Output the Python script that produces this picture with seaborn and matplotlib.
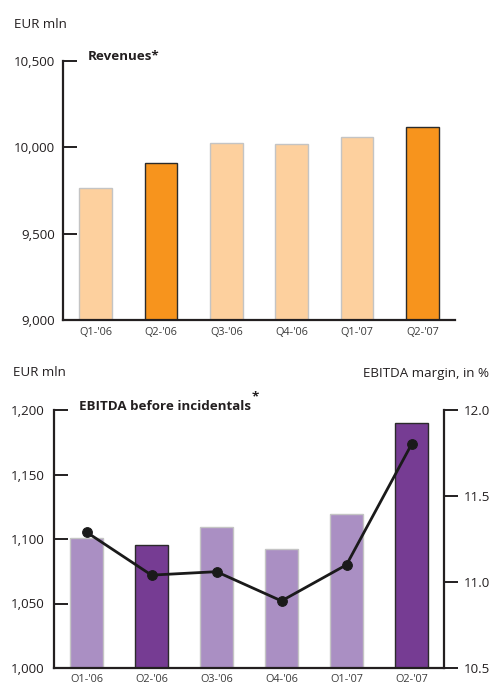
import numpy as np
import pandas as pd
import matplotlib
matplotlib.use("Agg")
import matplotlib.pyplot as plt
import seaborn as sns

# Revenues per quarter
rev_quarters = ["Q1-'06", "Q2-'06", "Q3-'06", "Q4-'06", "Q1-'07", "Q2-'07"]
rev_values = [9765, 9910, 10025, 10020, 10060, 10117]
rev_highlight = [False, True, False, False, False, True]
rev_ticks = [9000, 9500, 10000, 10500]

# EBITDA before incidentals and EBITDA margin
ebitda_quarters = ["O1-'06", "O2-'06", "O3-'06", "O4-'06", "O1-'07", "O2-'07"]
ebitda_values = [1101, 1095, 1109, 1092, 1119, 1190]
ebitda_highlight = [False, True, False, False, False, True]
margin_values = [11.29, 11.04, 11.06, 10.89, 11.10, 11.80]
ebitda_ticks = [1000, 1050, 1100, 1150, 1200]
margin_ticks = [10.5, 11.0, 11.5, 12.0]

sns.set_style("ticks")
plt.rcParams["font.family"] = ["Open Sans", "DejaVu Sans"]
plt.rcParams["font.size"] = 9.5

ORANGE_LIGHT, ORANGE_DARK = "#fdd09e", "#f7941d"
PURPLE_LIGHT, PURPLE_DARK = "#aa8fc3", "#763c93"
TEXT = "#231f20"
LABEL_SIZE = 9.6
XLABEL_SIZE = 7.8

W, H = 492, 686
fig = plt.figure(figsize=(W / 100, H / 100), dpi=100)


def axes_px(left, top, right, bottom):
    return fig.add_axes([left / W, 1 - bottom / H, (right - left) / W, (bottom - top) / H])


def style_bars(ax, highlight, light, dark):
    for patch, hi in zip(ax.patches, highlight):
        patch.set_facecolor(dark if hi else light)
        patch.set_edgecolor("#2b2b2b" if hi else "#c4c4c4")
        patch.set_linewidth(1.0)


# ---- Revenues chart ----
ax1 = axes_px(63, 61, 455, 320)
df_rev = pd.DataFrame({"quarter": rev_quarters, "value": rev_values})
sns.barplot(data=df_rev, x="quarter", y="value", hue="quarter", legend=False,
            palette=[ORANGE_DARK if h else ORANGE_LIGHT for h in rev_highlight],
            width=0.5, ax=ax1)
style_bars(ax1, rev_highlight, ORANGE_LIGHT, ORANGE_DARK)
ax1.set_xlim(-0.5, 5.5)
ax1.set_ylim(9000, 10500)
ax1.set_yticks(rev_ticks)
ax1.set_yticklabels([f"{v:,}" for v in rev_ticks])
ax1.set_xlabel("")
ax1.set_ylabel("")
sns.despine(ax=ax1)
for side in ("left", "bottom"):
    ax1.spines[side].set_linewidth(1.6)
    ax1.spines[side].set_color(TEXT)
ax1.tick_params(axis="y", direction="in", length=10, width=1.4, pad=6,
                labelsize=LABEL_SIZE, colors=TEXT)
ax1.tick_params(axis="x", length=0, pad=5, labelsize=XLABEL_SIZE, labelcolor="#3a3a3a")
fig.text(14 / W, 1 - 25 / H, "EUR mln", ha="left", va="center", fontsize=LABEL_SIZE,
         color=TEXT)
fig.text(88 / W, 1 - 57 / H, "Revenues*", ha="left", va="center", fontsize=LABEL_SIZE,
         fontweight="bold", color=TEXT)

# ---- EBITDA chart ----
ax2 = axes_px(54, 410, 444, 668)
df_eb = pd.DataFrame({"quarter": ebitda_quarters, "value": ebitda_values})
sns.barplot(data=df_eb, x="quarter", y="value", hue="quarter", legend=False,
            palette=[PURPLE_DARK if h else PURPLE_LIGHT for h in ebitda_highlight],
            width=0.5, ax=ax2)
style_bars(ax2, ebitda_highlight, PURPLE_LIGHT, PURPLE_DARK)
ax2.set_xlim(-0.5, 5.5)
ax2.set_ylim(1000, 1200)
ax2.set_yticks(ebitda_ticks)
ax2.set_yticklabels([f"{v:,}" for v in ebitda_ticks])
ax2.set_xlabel("")
ax2.set_ylabel("")
ax2.spines["top"].set_visible(False)
ax2.spines["right"].set_visible(False)
for side in ("left", "bottom"):
    ax2.spines[side].set_linewidth(1.6)
    ax2.spines[side].set_color(TEXT)
ax2.tick_params(axis="y", direction="in", length=10, width=1.4, pad=7,
                labelsize=LABEL_SIZE, colors=TEXT)
ax2.tick_params(axis="x", length=0, pad=4, labelsize=XLABEL_SIZE, labelcolor="#3a3a3a")

ax3 = ax2.twinx()
df_m = pd.DataFrame({"pos": np.arange(len(margin_values)), "margin": margin_values})
sns.lineplot(data=df_m, x="pos", y="margin", ax=ax3, color="#1a1a1a", linewidth=2.0,
             marker="o", markersize=7, markeredgecolor="#1a1a1a", zorder=5)
ax3.set_xlim(-0.5, 5.5)
ax3.set_ylim(10.5, 12.0)
ax3.set_yticks(margin_ticks)
ax3.set_yticklabels([f"{v:.1f}" for v in margin_ticks])
ax3.set_xlabel("")
ax3.set_ylabel("")
for side in ("top", "left", "bottom"):
    ax3.spines[side].set_visible(False)
ax3.spines["right"].set_linewidth(1.6)
ax3.spines["right"].set_color(TEXT)
ax3.tick_params(axis="y", direction="out", length=10, width=1.4, pad=4,
                labelsize=LABEL_SIZE, colors=TEXT)

fig.text(13 / W, 1 - 373 / H, "EUR mln", ha="left", va="center", fontsize=LABEL_SIZE,
         color=TEXT)
ebitda_title = fig.text(79 / W, 1 - 406 / H, "EBITDA before incidentals", ha="left",
                        va="center", fontsize=LABEL_SIZE, fontweight="bold", color=TEXT)
fig.canvas.draw()
title_right = ebitda_title.get_window_extent().x1
fig.text((title_right + 1) / W, 1 - 397 / H, "*", ha="left", va="center",
         fontsize=LABEL_SIZE, fontweight="bold", color=TEXT)
fig.text(489 / W, 1 - 373 / H, "EBITDA margin, in %", ha="right", va="center",
         fontsize=LABEL_SIZE, color=TEXT)

fig.savefig("out.png", dpi=100)
